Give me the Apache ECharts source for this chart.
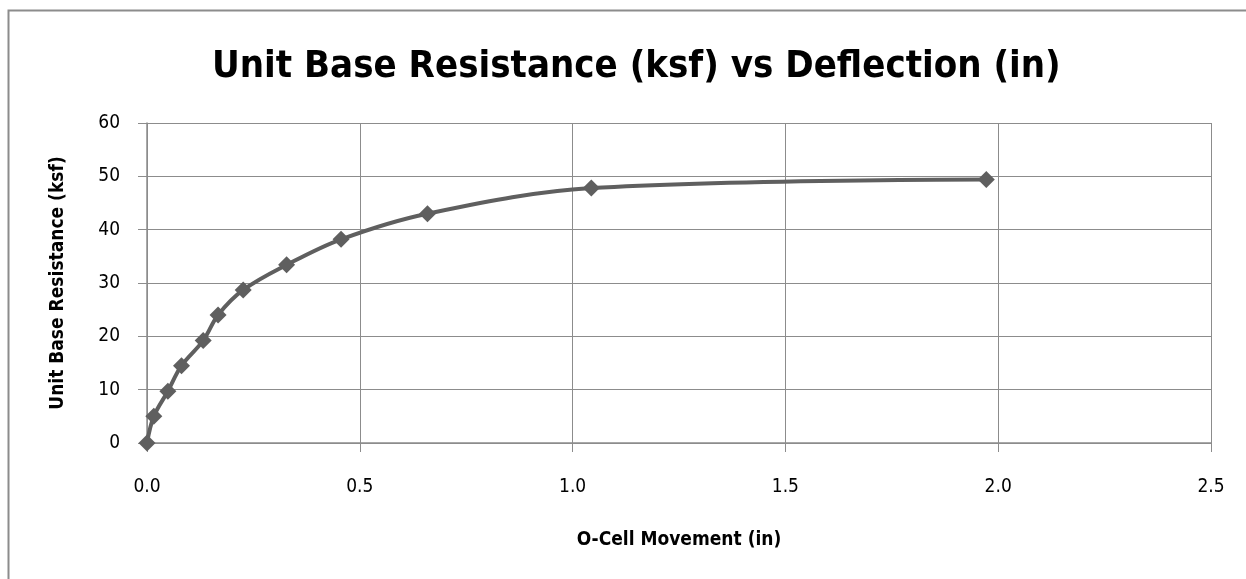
<!DOCTYPE html>
<html><head><meta charset="utf-8">
<script src="https://cdn.jsdelivr.net/npm/echarts@6/dist/echarts.min.js"></script>
<style>html,body{margin:0;padding:0;background:#fff}#c{width:1246px;height:579px}</style>
</head><body><div id="c"></div>
<script>
const titleText = "Unit Base Resistance (ksf) vs Deflection (in)";
const xName = "O-Cell Movement (in)";
const yName = "Unit Base Resistance (ksf)";
const movement = [0, 0.016, 0.049, 0.081, 0.132, 0.167, 0.226, 0.328, 0.456, 0.659, 1.044, 1.972];
const resistance = [0, 5.0, 9.7, 14.5, 19.2, 24.0, 28.7, 33.4, 38.2, 43.0, 47.8, 49.4];
const fontFam = "'DejaVu Sans Condensed','Liberation Sans Narrow','Open Sans',sans-serif";
const chart = echarts.init(document.getElementById('c'));
chart.setOption({
  backgroundColor: '#fff',
  animation: false,
  graphic: [{type:'rect', shape:{x:8.5,y:10.5,width:1300,height:700}, style:{fill:'none',stroke:'#8c8c8c',lineWidth:2}}],
  title: {text: titleText, left: 207, top: 43, textStyle:{fontFamily:fontFam, fontSize:38, fontWeight:'bold', color:'#000'}},
  grid: {left:147, right:35, top:123, bottom:136},
  xAxis: {type:'value', min:0, max:2.5, interval:0.5,
    name:xName, nameLocation:'middle', nameGap:88,
    nameTextStyle:{fontFamily:fontFam, fontSize:19, fontWeight:'bold', color:'#000'},
    axisLine:{show:true, lineStyle:{color:'#8c8c8c', width:1.5}},
    axisTick:{show:true, length:9, lineStyle:{color:'#8c8c8c'}},
    splitLine:{show:true, lineStyle:{color:'#8c8c8c', width:1}},
    axisLabel:{fontFamily:fontFam, fontSize:19, color:'#000', margin:35, formatter:v=>v.toFixed(1)}},
  yAxis: {type:'value', min:0, max:60, interval:10,
    name:yName, nameLocation:'middle', nameGap:79,
    nameTextStyle:{fontFamily:fontFam, fontSize:19, fontWeight:'bold', color:'#000'},
    axisLine:{show:true, lineStyle:{color:'#8c8c8c', width:1.5}},
    axisTick:{show:true, length:9, lineStyle:{color:'#8c8c8c'}},
    splitLine:{show:true, lineStyle:{color:'#8c8c8c', width:1}},
    axisLabel:{fontFamily:fontFam, fontSize:19, color:'#000', margin:27}},
  series: [{type:'line', data: movement.map((x,i)=>[x, resistance[i]]), smooth:0.35,
    symbol:'diamond', symbolSize:17, showAllSymbol:true,
    lineStyle:{color:'#5f5f5f', width:4}, itemStyle:{color:'#5f5f5f'}}]
});
</script></body></html>
